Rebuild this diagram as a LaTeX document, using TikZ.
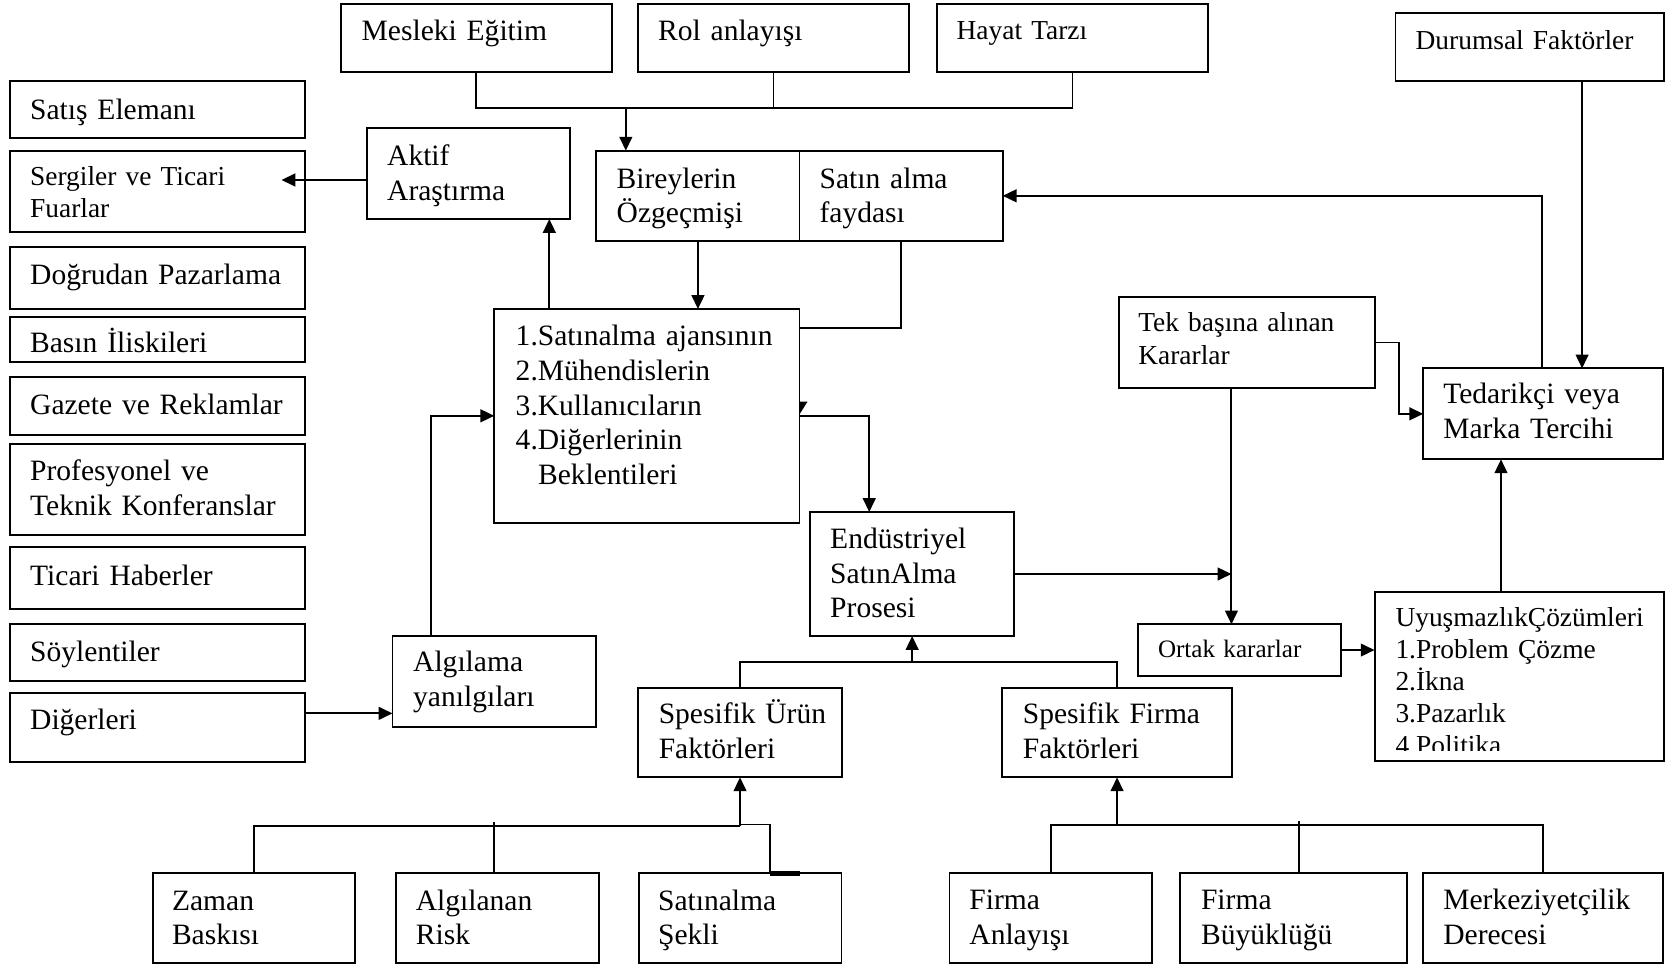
\documentclass[tikz,border=0pt]{standalone}
\usepackage{fontspec}
\setmainfont{Liberation Serif}
\usetikzlibrary{arrows.meta,fit,calc}
\newcommand\fsz[2]{\fontsize{#1}{#2}\selectfont}
% \tbox{name}{corner}{corner}{text position}{text style}{text}
\newcommand\tbox[6]{%
  \node[box, fit={(#2) (#3)}] (#1) {};
  \node[#5] (#1-t) at (#4) {#6};}
\begin{document}
\begin{tikzpicture}[x=0.5pt,y=-0.5pt,
  box/.style={draw, line width=0.9pt, inner sep=0pt, outer sep=0pt},
  txt/.style={inner sep=0pt, anchor=base west, align=left, text width=300pt},
  big/.style={txt, font=\fsz{13.9}{16.4}},
  mid/.style={txt, font=\fsz{12.9}{15}},
  sml/.style={txt, font=\fsz{11.8}{14}},
  ln/.style={line width=0.9pt},
  arr/.style={ln, -{Triangle[length=6.5pt,width=6pt]}}]
\path[fill=white, use as bounding box] (0,0) rectangle (1568,910);

% top row
\tbox{mes}{320.7,3.8}{575.9,67.5}{340,38}{big}{Mesleki Eğitim}
\tbox{rol}{600.4,3.8}{855.5,67.5}{619,38}{big}{Rol anlayışı}
\tbox{hay}{881.6,3.8}{1137.2,67.5}{900,37}{mid}{Hayat Tarzı}
\tbox{dur}{1313.4,12.5}{1566.5,76.2}{1332,47}{mid}{Durumsal Faktörler}

% information sources
\tbox{sel}{9.5,76.2}{287.2,129.9}{28,112}{big}{Satış Elemanı}
\tbox{serg}{9.5,142.1}{287.2,218}{28,175}{mid}{Sergiler ve Ticari\\Fuarlar}
\tbox{dog}{9.5,232.2}{287.2,291}{28,268}{big}{Doğrudan Pazarlama}
\tbox{bas}{9.5,298}{287.2,340.7}{28,332}{big}{Basın İliskileri}
\tbox{gaz}{9.5,354.5}{287.2,409.4}{28,390.5}{big}{Gazete ve Reklamlar}
\tbox{pro}{9.5,418.2}{287.2,503.5}{28,452}{big}{Profesyonel ve\\Teknik Konferanslar}
\tbox{tic}{9.5,515.1}{287.2,573.5}{28,551.5}{big}{Ticari Haberler}
\tbox{soy}{9.5,587.3}{287.2,641}{28,622.5}{big}{Söylentiler}
\tbox{dig}{9.5,651.9}{287.2,716.9}{28,687}{big}{Diğerleri}

% central part
\tbox{akt}{345.2,120.8}{536.8,206.1}{364,156}{big}{Aktif\\Araştırma}
\tbox{bir}{561.3,141.8}{752.5,226.8}{580,177}{big}{Bireylerin\\Özgeçmişi}
\tbox{sat}{752.5,141.8}{943.7,226.8}{771,177}{big}{Satın alma\\faydası}
\tbox{bek}{465.2,290.8}{752.5,491.9}{485,325}{big}{1.Satınalma ajansının\\2.Mühendislerin\\3.Kullanıcıların\\4.Diğerlerinin\\\hspace*{10.5pt}Beklentileri}
\tbox{alg}{369.4,598.6}{561,684}{388.5,632}{big}{Algılama\\yanılgıları}
\tbox{end}{762.7,481.9}{954.3,598.6}{781,516}{big}{Endüstriyel\\SatınAlma\\Prosesi}

% decision side
\tbox{tek}{1052.8,279.8}{1294.4,364.9}{1071,312}{txt, font=\fsz{12.9}{15.5}}{Tek başına alınan\\Kararlar}
\tbox{ted}{1339.5,346.7}{1565,432.3}{1358,380}{big}{Tedarikçi veya\\Marka Tercihi}
\tbox{ort}{1070.9,587.6}{1262.5,636}{1089.5,619}{sml}{Ortak kararlar}
\node[box, fit={(1293.7,557.5) (1566,716.2)}] (uyu) {};
\begin{scope}
  \clip (uyu.north west) rectangle (uyu.east |- 0,706.5);
  \node[mid] (uyu-t) at (1313,590) {UyuşmazlıkÇözümleri\\1.Problem Çözme\\2.İkna\\3.Pazarlık\\4.Politika};
\end{scope}

% specific factors
\tbox{spu}{600.8,647.2}{792.2,731.6}{619.6,681}{big}{Spesifik Ürün\\Faktörleri}
\tbox{spf}{943.4,647.2}{1159.3,731.6}{962.3,681}{big}{Spesifik Firma\\Faktörleri}

% bottom row
\tbox{zam}{144.2,822}{334.2,906.5}{161.5,856.5}{big}{Zaman\\Baskısı}
\tbox{alr}{372.5,822}{563.6,906.5}{391,856.5}{big}{Algılanan\\Risk}
\tbox{sek}{601,822}{792,906.5}{619,856.5}{big}{Satınalma\\Şekli}
\tbox{fan}{893.6,821.3}{1084.6,906.7}{912,856}{big}{Firma\\Anlayışı}
\tbox{fbu}{1111,821.3}{1324.4,906.7}{1130,856}{big}{Firma\\Büyüklüğü}
\tbox{mer}{1339.6,821.3}{1565,906.7}{1358,856}{big}{Merkeziyetçilik\\Derecesi}

% connectors: top bus into the individual background
\coordinate (bus) at (589,101.4);
\draw[ln] (mes.south) |- (hay.south |- bus) -- (hay.south);
\draw[ln] (rol.south) -- (rol.south |- bus);
\draw[arr] (bus) -- (bir.north -| bus);

% situational factors and preference feedback
\draw[arr] (dur.south -| 1489,0) -- (ted.north -| 1489,0);
\draw[arr] (ted.north -| 1451.5,0) |- (sat.east);

% active search and expectations
\coordinate (sergpt) at (264.9,169.4);
\draw[arr] (akt.west |- sergpt) -- (sergpt);
\draw[arr] (bek.north -| 517,0) -- (akt.south -| 517,0);
\draw[arr] (bir.south) -- (bir.south |- bek.north);
\draw[ln] (sat.south) |- (bek.east |- 0,309);
\fill (bek.east |- 0,378) -- ++(7.5,0) -- (bek.east |- 0,390) -- cycle;
\draw[arr] (bek.east) -| (end.north -| 818.1,0);
\draw[arr] (alg.north -| 405.5,0) |- (bek.west);
\draw[arr] (dig.east |- 0,671.4) -- (alg.west |- 0,671.4);

% purchasing process and decisions
\coordinate (tekdown) at (1159,0);
\draw[arr] (end.east) -- (end.east -| tekdown);
\draw[arr] (tek.south -| tekdown) -- (ort.north -| tekdown);
\draw[arr] (tek.east) -| ($(tek.east)!.5!(ted.west)$) |- (ted.west);
\draw[arr] (ort.east) -- (ort.east -| uyu.west);
\draw[arr] (uyu.north -| 1412.7,0) -- (ted.south -| 1412.7,0);

% specific factors into the process
\draw[ln] (spu.north) |- (spf.north |- 0,623) -- (spf.north);
\draw[arr] (end.south |- 0,623) -- (end.south);

% product factor inputs
\draw[ln] (zam.north) |- (spu.south |- 0,777);
\draw[ln] (alr.north -| 465,0) -- (465,773.3);
\draw[ln] (spu.south |- 0,776) -| (sek.north -| 724.4,0);
\draw[line width=2pt] (sek.north -| 724.4,0) -- (sek.north -| 752.6,0);
\draw[arr] (spu.south |- 0,777) -- (spu.south);

% firm factor inputs
\draw[ln] (fan.north) |- (mer.north |- 0,776.5) -- (mer.north);
\draw[ln] (fbu.north -| 1222.6,0) -- (1222.6,772.7);
\draw[arr] (spf.south |- 0,776.5) -- (spf.south);
\end{tikzpicture}
\end{document}
